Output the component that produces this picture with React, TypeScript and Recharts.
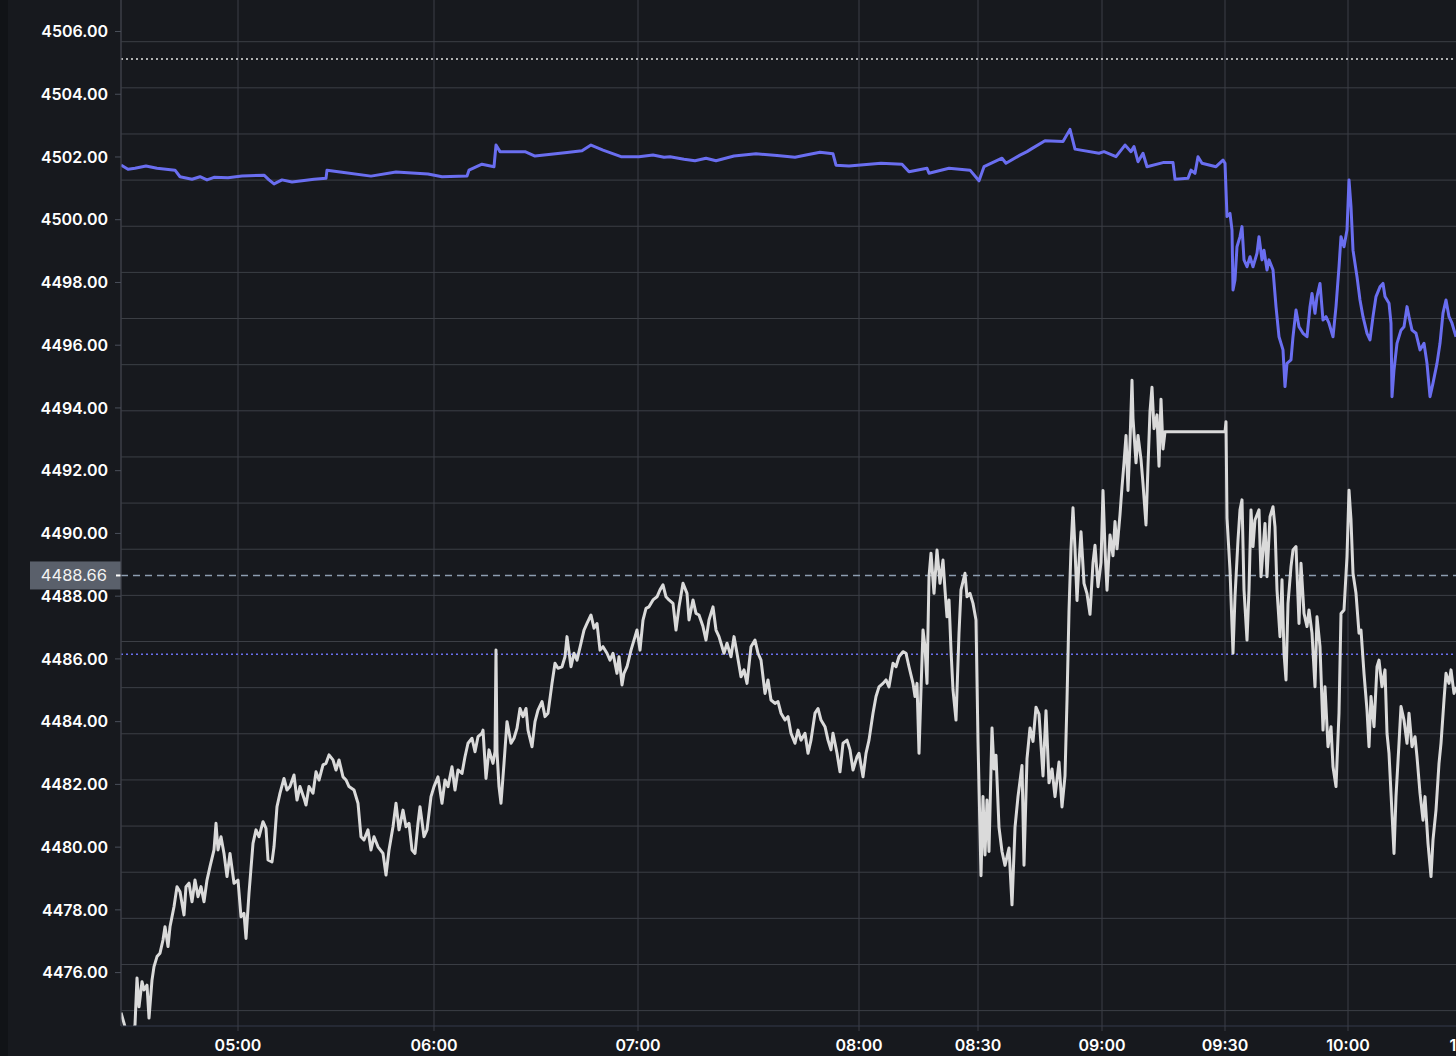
import React from "react";
import {
  LineChart,
  Line,
  XAxis,
  YAxis,
  CartesianGrid,
  ReferenceLine,
} from "recharts";

// bar index along the session, price in points
const whiteBar = [
  0, 3, 8, 14, 16, 18, 21, 23, 26, 28, 31, 33, 36, 39, 42, 44, 47, 49, 53, 56, 59, 63, 65, 68, 71, 74, 77, 80, 83, 86,
  89, 93, 95, 97, 100, 103, 106, 109, 113, 117, 120, 123, 125, 128, 132, 135, 138, 142, 145, 147, 151, 153, 156, 159,
  163, 166, 169, 173, 176, 179, 183, 185, 188, 192, 195, 198, 202, 205, 208, 212, 215, 218, 222, 225, 228, 233, 237,
  240, 243, 247, 250, 253, 257, 262, 265, 268, 272, 275, 278, 282, 285, 288, 291, 294, 297, 299, 303, 306, 310, 313,
  317, 319, 321, 324, 327, 331, 334, 337, 341, 344, 347, 351, 354, 357, 361, 362, 365, 368, 372, 374, 375, 376, 378,
  380, 383, 386, 390, 393, 396, 399, 402, 405, 407, 411, 414, 417, 421, 424, 427, 431, 434, 437, 441, 444, 446, 450,
  453, 456, 460, 463, 466, 470, 473, 476, 479, 482, 486, 489, 492, 496, 498, 501, 503, 506, 510, 513, 516, 519, 522,
  525, 528, 532, 536, 539, 542, 545, 548, 552, 555, 558, 562, 566, 568, 572, 575, 578, 582, 585, 588, 592, 595, 598,
  600, 603, 606, 610, 613, 616, 620, 623, 626, 630, 634, 637, 640, 644, 647, 650, 654, 657, 660, 664, 667, 670, 674,
  677, 680, 684, 687, 690, 694, 697, 700, 704, 707, 710, 712, 716, 719, 722, 726, 729, 732, 736, 738, 742, 745, 748,
  752, 755, 758, 762, 765, 768, 772, 775, 778, 782, 785, 788, 792, 794, 796, 798, 800, 802, 804, 806, 808, 810, 813,
  816, 819, 822, 824, 826, 828, 830, 832, 835, 838, 840, 844, 846, 849, 852, 855, 857, 860, 862, 864, 866, 868, 871,
  873, 875, 878, 881, 884, 888, 891, 894, 897, 901, 903, 906, 909, 912, 915, 918, 922, 925, 928, 931, 934, 938, 941,
  944, 946, 948, 950, 952, 954, 956, 958, 960, 963, 966, 969, 972, 974, 977, 980, 982, 984, 986, 989, 992, 994, 996,
  999, 1001, 1003, 1005, 1007, 1009, 1011, 1012, 1015, 1017, 1020, 1022, 1025, 1027, 1029, 1031, 1033, 1036, 1038,
  1040, 1042, 1044, 1104, 1105, 1106, 1109, 1112, 1114, 1117, 1119, 1121, 1123, 1126, 1128, 1130, 1132, 1134, 1138,
  1140, 1144, 1146, 1149, 1152, 1154, 1156, 1159, 1161, 1163, 1165, 1167, 1170, 1172, 1175, 1178, 1180, 1183, 1186,
  1188, 1191, 1194, 1196, 1199, 1202, 1204, 1207, 1210, 1212, 1215, 1218, 1220, 1223, 1226, 1228, 1230, 1232, 1235,
  1238, 1240, 1243, 1246, 1248, 1250, 1253, 1256, 1258, 1261, 1264, 1266, 1268, 1271, 1273, 1275, 1278, 1280, 1283,
  1286, 1288, 1291, 1294, 1296, 1299, 1302, 1304, 1307, 1310, 1312, 1315, 1318, 1320, 1323, 1325, 1328, 1330, 1333,
  1335,
];
const whitePrice = [
  4474.72, 4474.39, 4473.8, 4474.33, 4475.83, 4474.91, 4475.71, 4475.45, 4475.6, 4474.55, 4475.76, 4476.19, 4476.51,
  4476.62, 4477.04, 4477.46, 4476.83, 4477.46, 4478.1, 4478.74, 4478.58, 4477.84, 4478.74, 4478.85, 4478.26, 4478.95,
  4478.42, 4478.74, 4478.26, 4478.95, 4479.38, 4479.91, 4480.76, 4479.91, 4480.33, 4479.8, 4479.06, 4479.8, 4478.85,
  4478.95, 4477.78, 4477.89, 4477.09, 4478.53, 4480.12, 4480.55, 4480.33, 4480.81, 4480.6, 4479.59, 4479.53, 4480.01,
  4481.29, 4481.72, 4482.19, 4481.82, 4481.93, 4482.3, 4481.5, 4481.93, 4481.56, 4481.34, 4481.93, 4481.72, 4482.4,
  4482.14, 4482.62, 4482.67, 4482.94, 4482.78, 4482.46, 4482.78, 4482.24, 4482.14, 4481.93, 4481.82, 4481.4, 4480.33,
  4480.23, 4480.55, 4479.91, 4480.33, 4480.01, 4479.8, 4479.11, 4479.91, 4480.65, 4481.4, 4480.55, 4481.18, 4480.65,
  4480.76, 4479.91, 4479.8, 4480.76, 4481.29, 4480.33, 4480.55, 4481.61, 4481.93, 4482.24, 4481.82, 4481.4, 4482.14,
  4481.93, 4482.56, 4481.82, 4482.46, 4482.35, 4482.88, 4483.31, 4483.47, 4483.04, 4483.52, 4483.63, 4483.73, 4482.19,
  4483.1, 4482.67, 4483.04, 4486.28, 4483.04, 4481.93, 4481.4, 4482.67, 4484.0, 4483.31, 4483.47, 4483.79, 4484.42,
  4484.16, 4484.42, 4483.73, 4483.2, 4484.0, 4484.37, 4484.64, 4484.16, 4484.27, 4485.22, 4485.86, 4485.7, 4485.75,
  4486.07, 4486.71, 4485.75, 4486.18, 4485.96, 4486.5, 4486.92, 4487.13, 4487.4, 4486.98, 4487.13, 4486.28, 4486.39,
  4486.18, 4485.96, 4486.18, 4485.54, 4486.07, 4485.17, 4485.54, 4485.75, 4486.28, 4486.6, 4486.92, 4486.28, 4487.24,
  4487.61, 4487.66, 4487.88, 4487.98, 4488.2, 4488.36, 4487.98, 4487.88, 4487.77, 4486.92, 4487.66, 4488.41, 4488.09,
  4487.24, 4487.88, 4487.45, 4487.4, 4487.03, 4486.6, 4487.24, 4487.66, 4486.92, 4486.71, 4486.5, 4486.18, 4486.5,
  4486.07, 4486.71, 4486.18, 4485.43, 4485.65, 4485.22, 4486.39, 4486.6, 4486.18, 4485.96, 4484.9, 4485.33, 4484.69,
  4484.58, 4484.64, 4484.27, 4484.05, 4484.16, 4483.63, 4483.31, 4483.73, 4483.41, 4483.63, 4482.99, 4483.41, 4484.27,
  4484.42, 4484.05, 4483.84, 4483.41, 4483.1, 4483.63, 4482.99, 4482.4, 4483.31, 4483.41, 4483.1, 4482.46, 4482.88,
  4482.99, 4482.24, 4482.99, 4483.41, 4484.27, 4484.8, 4485.11, 4485.22, 4485.33, 4485.11, 4485.86, 4485.75, 4486.07,
  4486.23, 4486.18, 4485.75, 4485.22, 4484.8, 4485.22, 4482.99, 4485.01, 4486.92, 4486.39, 4485.22, 4488.62, 4489.37,
  4488.09, 4489.47, 4488.41, 4489.15, 4488.2, 4487.34, 4487.88, 4486.28, 4485.01, 4484.05, 4486.82, 4488.2, 4488.73,
  4487.98, 4488.09, 4487.77, 4487.24, 4483.37, 4479.09, 4481.61, 4479.75, 4481.5, 4479.86, 4483.8, 4482.49, 4482.93,
  4480.63, 4479.86, 4479.42, 4479.97, 4478.16, 4480.63, 4481.61, 4482.6, 4479.42, 4482.82, 4483.8, 4483.37, 4484.46,
  4484.24, 4482.27, 4484.35, 4482.05, 4482.49, 4481.61, 4482.71, 4481.28, 4482.27, 4484.68, 4487.53, 4489.51, 4490.82,
  4489.51, 4487.86, 4489.07, 4490.05, 4488.41, 4488.08, 4487.42, 4489.07, 4489.62, 4488.3, 4489.07, 4491.37, 4489.51,
  4488.19, 4489.95, 4489.29, 4490.38, 4489.51, 4490.6, 4491.48, 4492.25, 4493.12, 4491.37, 4492.91, 4494.88, 4493.67,
  4492.25, 4493.12, 4492.36, 4491.59, 4490.27, 4492.14, 4493.89, 4494.66, 4493.34, 4493.78, 4492.14, 4494.28, 4492.69,
  4493.24, 4493.24, 4493.56, 4490.49, 4488.83, 4486.18, 4487.98, 4489.79, 4490.75, 4491.07, 4488.2, 4486.6, 4488.2,
  4490.75, 4489.58, 4490.43, 4490.75, 4488.62, 4490.32, 4488.62, 4490.53, 4490.85, 4490.21, 4488.2, 4486.71, 4488.52,
  4486.18, 4485.33, 4487.77, 4488.94, 4489.47, 4489.58, 4487.13, 4489.05, 4487.45, 4487.03, 4487.56, 4486.82, 4485.11,
  4487.34, 4486.39, 4483.73, 4485.11, 4483.2, 4483.84, 4482.56, 4481.93, 4484.27, 4487.45, 4487.56, 4489.26, 4491.38,
  4490.43, 4488.73, 4488.09, 4486.82, 4486.92, 4485.54, 4484.37, 4483.2, 4484.8, 4483.84, 4485.75, 4485.96, 4485.11,
  4485.65, 4483.63, 4482.99, 4481.08, 4479.8, 4481.61, 4483.31, 4484.48, 4484.05, 4483.31, 4484.27, 4483.2, 4483.52,
  4482.88, 4481.72, 4480.86, 4481.61, 4480.12, 4479.06, 4480.23, 4481.18, 4482.67, 4483.31, 4484.69, 4485.54, 4485.22,
  4485.65, 4484.9, 4485.11,
];

const blueBar = [
  0, 7, 14, 25, 36, 54, 59, 71, 79, 86, 93, 107, 121, 143, 148, 153, 161, 171, 193, 205, 206, 221, 250, 275, 307, 321,
  346, 348, 361, 373, 375, 379, 404, 414, 446, 461, 470, 482, 500, 518, 532, 543, 549, 563, 574, 585, 595, 613, 635,
  656, 674, 685, 699, 712, 715, 728, 760, 781, 788, 806, 808, 828, 849, 858, 863, 881, 885, 899, 906, 910, 924, 942,
  949, 954, 978, 983, 995, 1004, 1010, 1013, 1017, 1022, 1026, 1042, 1052, 1054, 1067, 1070, 1074, 1077, 1081, 1095,
  1102, 1104, 1106, 1109, 1111, 1112, 1114, 1116, 1119, 1121, 1123, 1126, 1129, 1132, 1136, 1138, 1141, 1143, 1146,
  1148, 1152, 1155, 1158, 1162, 1164, 1166, 1170, 1172, 1175, 1178, 1182, 1186, 1189, 1191, 1194, 1196, 1199, 1202,
  1205, 1208, 1212, 1215, 1218, 1220, 1223, 1226, 1228, 1230, 1232, 1236, 1239, 1242, 1246, 1249, 1252, 1255, 1259,
  1262, 1264, 1268, 1270, 1271, 1273, 1276, 1280, 1283, 1286, 1288, 1291, 1295, 1299, 1303, 1306, 1309, 1312, 1316,
  1319, 1322, 1325, 1328, 1331, 1335,
];
const bluePrice = [
  4501.74, 4501.61, 4501.64, 4501.71, 4501.64, 4501.58, 4501.37, 4501.29, 4501.37, 4501.27, 4501.35, 4501.34, 4501.39,
  4501.42, 4501.27, 4501.14, 4501.27, 4501.2, 4501.29, 4501.32, 4501.58, 4501.51, 4501.39, 4501.52, 4501.46, 4501.37,
  4501.39, 4501.58, 4501.77, 4501.69, 4502.38, 4502.17, 4502.17, 4502.03, 4502.14, 4502.2, 4502.38, 4502.22, 4502.01,
  4502.01, 4502.06, 4501.99, 4502.01, 4501.93, 4501.88, 4501.96, 4501.88, 4502.03, 4502.1, 4502.05, 4501.99, 4502.06,
  4502.15, 4502.1, 4501.74, 4501.71, 4501.8, 4501.77, 4501.53, 4501.64, 4501.48, 4501.64, 4501.58, 4501.24, 4501.69,
  4501.96, 4501.8, 4502.06, 4502.17, 4502.25, 4502.52, 4502.49, 4502.88, 4502.25, 4502.12, 4502.17, 4502.01, 4502.38,
  4502.17, 4502.33, 4501.85, 4502.12, 4501.69, 4501.82, 4501.82, 4501.29, 4501.32, 4501.58, 4501.48, 4502.01, 4501.8,
  4501.69, 4501.9, 4501.8, 4500.1, 4500.2, 4499.67, 4497.76, 4498.08, 4499.14, 4499.46, 4499.78, 4498.72, 4498.5,
  4498.82, 4498.5, 4498.93, 4499.46, 4498.72, 4499.03, 4498.4, 4498.72, 4498.4, 4497.23, 4496.27, 4495.85, 4494.68,
  4495.42, 4495.53, 4496.27, 4497.12, 4496.59, 4496.38, 4496.27, 4497.23, 4497.65, 4497.02, 4497.55, 4497.97, 4496.8,
  4496.91, 4496.7, 4496.27, 4497.23, 4498.5, 4499.46, 4499.14, 4499.67, 4501.27, 4500.42, 4499.03, 4498.18, 4497.44,
  4496.91, 4496.38, 4496.17, 4496.91, 4497.55, 4497.86, 4497.97, 4497.55, 4497.34, 4496.7, 4494.36, 4495.21, 4496.06,
  4496.48, 4496.59, 4497.23, 4496.91, 4496.48, 4496.38, 4495.85, 4496.06, 4495.42, 4494.36, 4494.79, 4495.42, 4496.06,
  4497.02, 4497.44, 4496.91, 4496.7, 4496.27,
];

const timeTicks = [117, 313, 517, 738, 857, 981, 1104, 1227, 1350];
const timeLabels = ["05:00", "06:00", "07:00", "08:00", "08:30", "09:00", "09:30", "10:00", "10:30"];
const priceTicks = [4476, 4478, 4480, 4482, 4484, 4486, 4488, 4490, 4492, 4494, 4496, 4498, 4500, 4502, 4504, 4506];

const lastPrice = 4488.66;
const upperLevel = 4505.12;
const lowerLevel = 4486.15;

const gridLevels = Array.from({ length: 22 }, (_, k) => 4505.675 - 1.4708 * k);

const BG = "#17191e";
const GRID = "#3c3f46";
const FONT = "Inter, 'Noto Sans', sans-serif";

const zip = (xs: number[], ys: number[]) => xs.map((x, i) => ({ x, y: ys[i] }));
const whiteData = zip(whiteBar, whitePrice);
const blueData = zip(blueBar, bluePrice);

function PriceTag({ viewBox }: any) {
  if (!viewBox) return null;
  const { x, y } = viewBox;
  return (
    <g>
      <rect x={x - 91} y={y - 14} width={91} height={28} fill="#5a606b" />
      <line x1={x - 5} x2={x} y1={y} y2={y} stroke="#ffffff" strokeWidth={2} />
      <text
        x={x - 14}
        y={y}
        dy="0.35em"
        textAnchor="end"
        fill="#f2f2f2"
        fontSize={16.5}
        fontFamily={FONT}
      >
        {lastPrice.toFixed(2)}
      </text>
    </g>
  );
}

export default function App() {
  return (
    <div
      style={{
        position: "fixed",
        left: 0,
        top: 0,
        width: 1456,
        height: 1056,
        overflow: "hidden",
        background: BG,
      }}
    >
      <div style={{ position: "absolute", left: 0, top: 0, width: 8, height: 1056, background: "#111317" }} />
      <LineChart
        width={1530}
        height={1056}
        margin={{ top: 0, right: 0, bottom: 0, left: 0 }}
        style={{ position: "absolute", left: 0, top: 0 }}
      >
        <CartesianGrid horizontal={false} stroke={GRID} strokeWidth={1} />
        <XAxis
          type="number"
          dataKey="x"
          domain={[0, 1409]}
          ticks={timeTicks}
          tickFormatter={(v: number) => timeLabels[timeTicks.indexOf(v)]}
          height={30}
          tickSize={5}
          tickMargin={9}
          axisLine={{ stroke: "#343a4b" }}
          tickLine={{ stroke: GRID }}
          tick={{ fill: "#ffffff", fontSize: 16, fontWeight: 600, fontFamily: FONT }}
          allowDataOverflow
        />
        <YAxis
          type="number"
          domain={[4474.298, 4507.004]}
          ticks={priceTicks}
          tickFormatter={(v: number) => v.toFixed(2)}
          width={121}
          tickSize={6}
          tickMargin={7}
          axisLine={{ stroke: GRID }}
          tickLine={{ stroke: "#4a4f5a" }}
          tick={{ fill: "#ffffff", fontSize: 16, fontWeight: 600, fontFamily: FONT }}
          allowDataOverflow
        />
        {gridLevels.map((g) => (
          <ReferenceLine key={g} y={g} stroke={GRID} strokeWidth={1} />
        ))}
        <ReferenceLine y={upperLevel} stroke="#e6e6e6" strokeWidth={1.5} strokeDasharray="2 3" />
        <ReferenceLine y={lowerLevel} stroke="#6b6ff0" strokeWidth={1.5} strokeDasharray="2 3" />
        <ReferenceLine
          y={lastPrice}
          stroke="#8d9db0"
          strokeWidth={1.5}
          strokeDasharray="7 5"
          label={(props: any) => <PriceTag {...props} />}
        />
        <Line
          data={blueData}
          dataKey="y"
          type="linear"
          stroke="#6a6ef0"
          strokeWidth={3}
          dot={false}
          activeDot={false}
          isAnimationActive={false}
          strokeLinejoin="round"
        />
        <Line
          data={whiteData}
          dataKey="y"
          type="linear"
          stroke="#dadada"
          strokeWidth={3}
          dot={false}
          activeDot={false}
          isAnimationActive={false}
          strokeLinejoin="round"
        />
      </LineChart>
    </div>
  );
}
